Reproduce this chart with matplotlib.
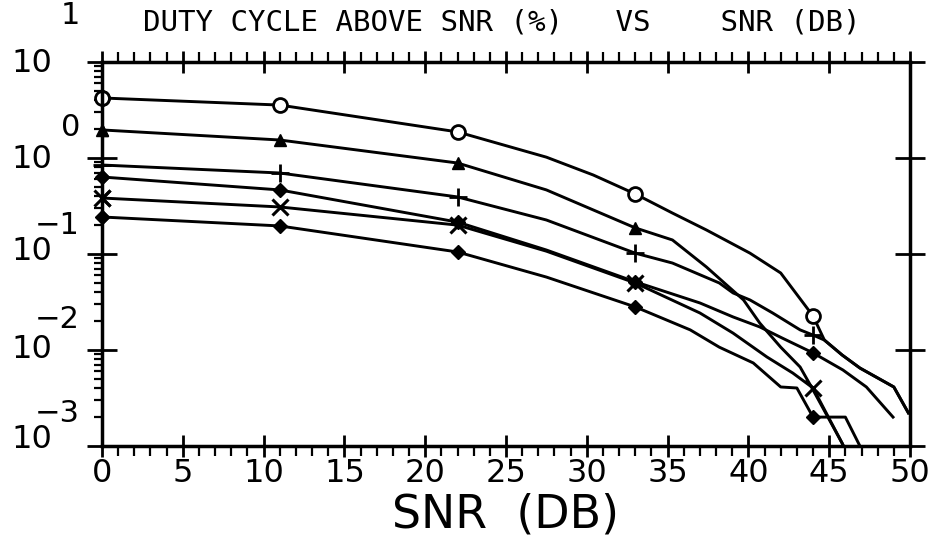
import numpy as np
import matplotlib.pyplot as plt
from matplotlib.ticker import MultipleLocator, LogLocator, NullFormatter

# SNR values where the curves carry a marker
snr_marks = [0, 11, 22, 33, 44]

# duty cycle above SNR (%), one curve per marker type
circle_x = [0, 11, 22, 27.5, 30.4, 33, 35.3, 37.4, 40.1, 42.0, 44, 44.7, 45.8, 46.9, 49.0, 49.9]
circle_y = [4.22, 3.56, 1.87, 1.02, 0.665, 0.422, 0.267, 0.178, 0.102, 0.0634, 0.0226,
            0.0127, 0.00887, 0.00649, 0.00412, 0.00221]

tri_x = [0, 11, 22, 27.5, 33, 35.3, 37.4, 38.7, 39.7, 40.7, 42.0, 43.2, 43.9, 45.8, 46.3]
tri_y = [1.96, 1.54, 0.887, 0.465, 0.187, 0.14, 0.0733, 0.0468, 0.0332, 0.0191, 0.0107,
         0.00665, 0.00412, 0.00107, 0.000708]

plus_x = [0, 11, 22, 27.5, 33, 35.3, 38.2, 39.05, 40.1, 41.5, 43.2, 44, 44.7, 45.8, 46.9, 49.0, 49.9]
plus_y = [0.845, 0.698, 0.393, 0.226, 0.102, 0.0805, 0.0499, 0.0393, 0.0332, 0.0243, 0.0162,
          0.0143, 0.0127, 0.00887, 0.00649, 0.00412, 0.00221]

dia1_x = [0, 11, 22, 27.5, 33, 37.0, 39.05, 40.7, 42.1, 44, 45.85, 47.3, 48.95]
dia1_y = [0.634, 0.465, 0.215, 0.110, 0.0513, 0.0309, 0.0221, 0.0174, 0.0133, 0.00933,
          0.00619, 0.00412, 0.002]

cross_x = [0, 11, 22, 27.5, 33, 37.0, 39.05, 41.15, 42.75, 44, 45.8, 46.3]
cross_y = [0.383, 0.309, 0.2, 0.107, 0.0499, 0.0243, 0.015, 0.00845, 0.00575, 0.00402,
           0.00107, 0.000708]

dia2_x = [0, 11, 22, 27.5, 33, 36.4, 38.2, 40.3, 42.0, 43.0, 44, 46.0, 46.9, 47.3]
dia2_y = [0.243, 0.196, 0.105, 0.0575, 0.0281, 0.0162, 0.0107, 0.00733, 0.00412, 0.00402,
          0.002, 0.002, 0.001, 0.000708]

decades = [1e1, 1e0, 1e-1, 1e-2, 1e-3]
exponents = ['1', '0', '\u22121', '\u22122', '\u22123']

plt.rcParams['font.family'] = ['DejaVu Sans']

fig = plt.figure(figsize=(9.37, 5.41), dpi=100)
ax = fig.add_axes([102/937, 1-446/541, 808/937, 384/541])

curves = [
    (circle_x, circle_y, dict(marker='o', ms=10, mfc='white', mew=2)),
    (tri_x, tri_y, dict(marker='^', ms=9)),
    (plus_x, plus_y, dict(marker='+', ms=13, mew=2)),
    (dia1_x, dia1_y, dict(marker='D', ms=7)),
    (cross_x, cross_y, dict(marker='x', ms=11, mew=2.2)),
    (dia2_x, dia2_y, dict(marker='D', ms=7)),
]
for xs, ys, style in curves:
    marks = [i for i, v in enumerate(xs) if v in snr_marks]
    ax.plot(xs, ys, color='black', lw=2.1, markevery=marks, **style)
    # markers sitting on the axis edge are drawn unclipped
    ax.plot([xs[i] for i in marks if xs[i] == 0], [ys[i] for i in marks if xs[i] == 0],
            color='black', linestyle='none', clip_on=False, **style)

ax.set_yscale('log')
ax.set_xlim(0, 50)
ax.set_ylim(1e-3, 1e1)

for s in ax.spines.values():
    s.set_linewidth(2.5)

# x ticks: bottom and top
ax.xaxis.set_major_locator(MultipleLocator(5))
ax.xaxis.set_minor_locator(MultipleLocator(1))
ax.tick_params(axis='x', which='major', direction='inout', length=16, width=2,
               top=True, bottom=True, labelsize=23, pad=1)
ax.tick_params(axis='x', which='minor', direction='out', length=7, width=1.6,
               top=True, bottom=True)

# y ticks: decades cross both spines, minor ticks only on the left
ax.yaxis.set_major_locator(LogLocator(base=10, numticks=10))
ax.yaxis.set_minor_locator(LogLocator(base=10, subs=np.arange(2, 10), numticks=10))
ax.yaxis.set_minor_formatter(NullFormatter())
ax.tick_params(axis='y', which='major', direction='inout', length=22, width=2,
               left=True, right=True, labelleft=False)
ax.tick_params(axis='y', which='minor', direction='out', length=6, width=1.6,
               left=True, right=False)

ax.set_xticks(range(0, 51, 5))
ax.set_xticklabels([str(v) for v in range(0, 51, 5)])

# decade labels drawn as "10" with a full size exponent above it
base_dy = [-1, -2, 2, 0, 6]
exp_dy = [47, 30, 29, 31, 32]
for d, e, bdy, edy in zip(decades, exponents, base_dy, exp_dy):
    ax.annotate('10', xy=(0, d), xycoords=('axes fraction', 'data'),
                xytext=(-50, bdy), textcoords='offset pixels',
                ha='right', va='center', fontsize=23)
    ax.annotate(e, xy=(0, d), xycoords=('axes fraction', 'data'),
                xytext=(-22, edy), textcoords='offset pixels',
                ha='right', va='center', fontsize=22)

ax.set_xlabel('SNR  (DB)', fontsize=33, labelpad=2)

fig.text(502/937, 1-22/541, 'DUTY CYCLE ABOVE SNR (%)   VS    SNR (DB)',
         ha='center', va='center', fontsize=21, family='DejaVu Sans Mono')

fig.savefig('out.png', dpi=100)
